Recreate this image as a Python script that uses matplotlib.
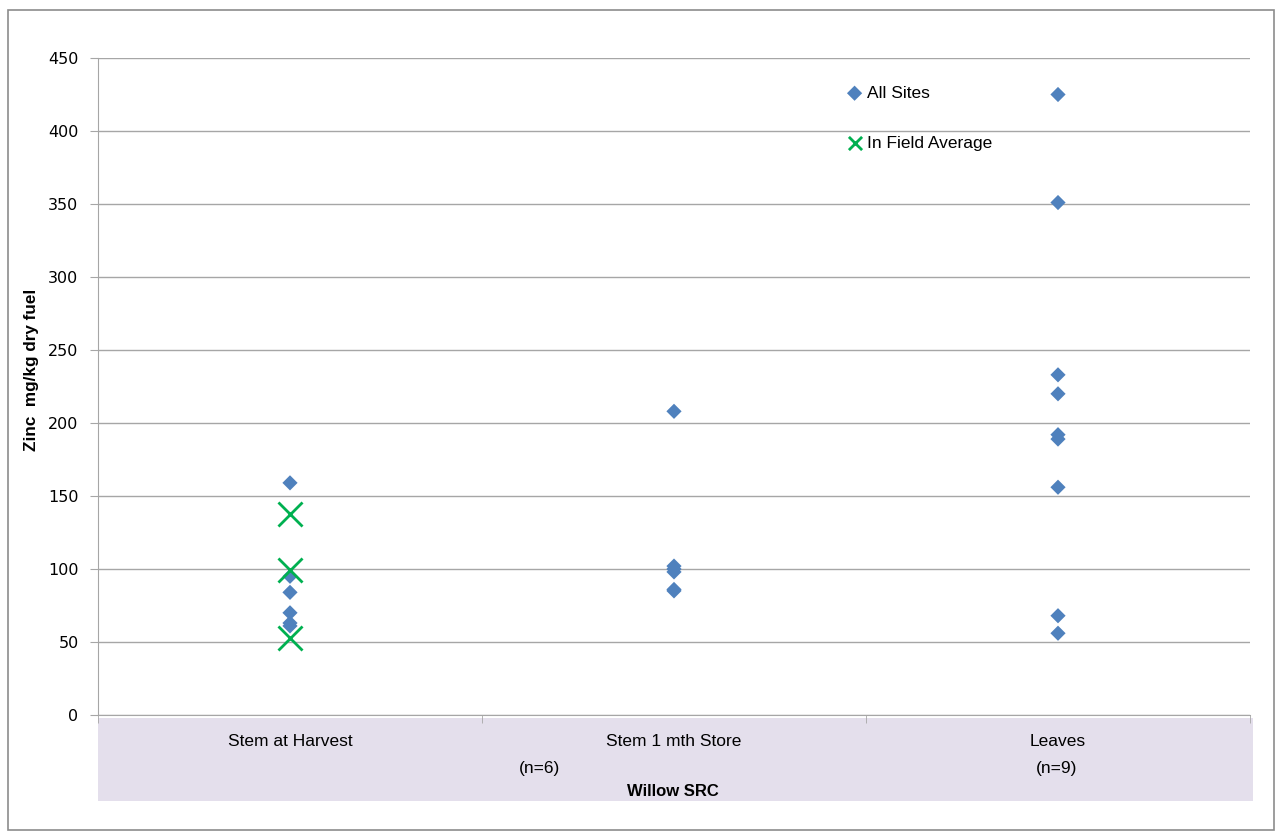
import matplotlib.pyplot as plt
from matplotlib.patches import Rectangle

# Data (mg/kg dry fuel)
categories = ["Stem at Harvest", "Stem 1 mth Store", "Leaves"]
harvest_sites = [159, 95, 84, 70, 63, 61]
store_sites = [208, 102, 100, 98, 86, 85]
leaves_sites = [425, 351, 233, 220, 192, 189, 156, 68, 56]
harvest_field_avg = [138, 99, 53]

blue = "#4F81BD"
green = "#00B050"
grid_col = "#A6A6A6"

fig = plt.figure(figsize=(12.79, 8.32), dpi=100)
W, H = 1279, 832

# outer chart border and lavender category band
fig.patches.append(Rectangle((8 / W, 2 / H), 1266 / W, 820 / H, transform=fig.transFigure,
                             fill=False, edgecolor="#8C8C8C", linewidth=1.2))
fig.patches.append(Rectangle((98 / W, (H - 801) / H), 1155 / W, 83 / H, transform=fig.transFigure,
                             facecolor="#E4DFEC", edgecolor="none", zorder=-1))

ax = fig.add_axes([98 / W, (H - 715) / H, 1152 / W, 657 / H])
ax.patch.set_alpha(0)

# all sites (diamonds)
all_x = [1] * len(harvest_sites) + [2] * len(store_sites) + [3] * len(leaves_sites)
all_y = harvest_sites + store_sites + leaves_sites
ax.scatter(all_x, all_y, marker="D", s=60, color=blue, edgecolors="none", zorder=3, label="All Sites")
# in field averages (crosses)
ax.scatter([1] * len(harvest_field_avg), harvest_field_avg, marker="x", s=300, color=green,
           linewidths=2, zorder=4, label="In Field Average")

ax.set_xlim(0.5, 3.5)
ax.set_ylim(0, 450)
ax.set_yticks(range(0, 451, 50))
ax.yaxis.grid(True, color=grid_col, linewidth=1)
ax.set_axisbelow(True)

ax.set_xticks([1, 2, 3])
ax.set_xticklabels([])
ax.set_xticks([0.5, 1.5, 2.5, 3.5], minor=True)
ax.tick_params(axis="x", which="major", length=0)
ax.tick_params(axis="x", which="minor", length=6, color=grid_col)
ax.tick_params(axis="y", length=6, color=grid_col, labelsize=11.5, pad=8)

for s in ["top", "right"]:
    ax.spines[s].set_visible(False)
for s in ["left", "bottom"]:
    ax.spines[s].set_color(grid_col)

# category labels on the band
lab_font = dict(family=["Liberation Sans", "DejaVu Sans"], fontsize=12.5)
for x, name in zip([1, 2, 3], categories):
    ax.text(x, -18, name, ha="center", va="center", **lab_font)
fig.text(540 / W, (H - 768) / H, "(n=6)", ha="center", va="center", **lab_font)
fig.text(1057 / W, (H - 768) / H, "(n=9)", ha="center", va="center", **lab_font)
fig.text(673 / W, (H - 791) / H, "Willow SRC", ha="center", va="center", fontweight="bold",
         family=["Liberation Sans", "DejaVu Sans"], fontsize=12)

fig.text(32 / W, (H - 370) / H, "Zinc  mg/kg dry fuel", rotation=90, ha="center", va="center",
         fontweight="bold", family=["Liberation Sans", "DejaVu Sans"], fontsize=12.3)

leg = ax.legend(loc="upper left", bbox_to_anchor=(832 / W, (H - 70) / H), bbox_transform=fig.transFigure,
                frameon=False, handlelength=0.8, handletextpad=0.3, labelspacing=2.0,
                prop={"family": ["Liberation Sans", "DejaVu Sans"], "size": 12.5})
leg.legend_handles[0].set_sizes([60])
leg.legend_handles[1].set_sizes([90])

fig.savefig("out.png", dpi=100)
